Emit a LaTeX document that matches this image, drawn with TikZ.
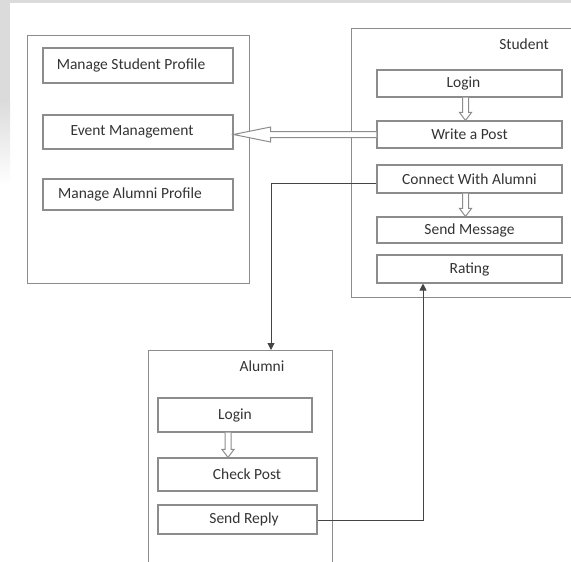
\documentclass[tikz,border=0pt]{standalone}
\usepackage{fontspec}
\setmainfont{Carlito}
\usetikzlibrary{calc,arrows.meta}
\definecolor{boxline}{HTML}{8C8C8C}
\definecolor{txt}{HTML}{333333}
\definecolor{connline}{HTML}{444444}
\tikzset{
  container/.style={draw=boxline, line width=1.3pt, anchor=north west, inner sep=0pt},
  item/.style={draw=boxline, line width=1.1pt, inner sep=0pt, text=txt,
    font=\fontsize{15.5}{18}\selectfont},
  caption/.style={text=txt, inner sep=0pt, font=\fontsize{15.5}{18}\selectfont},
  hollow/.style={draw=boxline, line width=1pt, fill=white, line join=miter},
  conn/.style={draw=connline, line width=1pt, -{Triangle[width=7pt,length=7pt]}}
}
\begin{document}
\begin{tikzpicture}[x=1pt,y=-1pt]
\useasboundingbox (0,0) rectangle (571,562);
\clip (0,0) rectangle (571,562);
% page margins of the scan
\fill[black!14] (0,0) rectangle (571,2.5);
\fill[black!14] (0,0) rectangle (10,100);
\shade[top color=black!14, bottom color=white] (0,100) rectangle (10,185);
% containers
\node[container, minimum width=222pt, minimum height=248pt] (admin) at (27,35) {};
\node[container, minimum width=230pt, minimum height=269pt] (student) at (351,28) {};
\node[container, minimum width=184pt, minimum height=230pt] (alumni) at (148,350) {};
\node[caption] (stlabel) at (524,44) {Student};
\node[caption] (allabel) at (262,366) {Alumni};
% admin items
\node[item, minimum width=190pt, minimum height=35pt] (ms) at (138,65.5) {Manage Student Profile\hspace*{14pt}};
\node[item, minimum width=190pt, minimum height=34pt] (em) at (138,132) {Event Management\hspace*{12pt}};
\node[item, minimum width=190pt, minimum height=31pt] (ma) at (138,194.5) {Manage Alumni Profile\hspace*{16pt}};
% student items
\node[item, minimum width=185pt, minimum height=27pt] (slogin) at (469.5,83.5) {Login\hspace*{12pt}};
\node[item, minimum width=185pt, minimum height=27pt] (spost) at (469.5,134.5) {Write a Post};
\node[item, minimum width=185pt, minimum height=28pt] (sconn) at (469.5,179) {Connect With Alumni};
\node[item, minimum width=185pt, minimum height=26pt] (smsg) at (469.5,230) {Send Message};
\node[item, minimum width=185pt, minimum height=28pt] (srate) at (469.5,269) {Rating};
% alumni items
\node[item, minimum width=154pt, minimum height=34pt] (alogin) at (235,415) {Login};
\node[item, minimum width=159pt, minimum height=33pt] (acheck) at (237.5,474.5) {\hspace*{19pt}Check Post};
\node[item, minimum width=159pt, minimum height=29pt] (areply) at (237.5,519.5) {\hspace*{13pt}Send Reply};
% hollow arrow: Write a Post -> Event Management
\coordinate (t0) at (em.east |- spost.west);
\draw[hollow] ($(spost.west)+(0,-3)$) -- ($(t0)+(37,-3)$) -- ($(t0)+(37,-7.5)$) -- (t0)
  -- ($(t0)+(37,7.5)$) -- ($(t0)+(37,3)$) -- ($(spost.west)+(0,3)$);
% hollow arrow: Login -> Write a Post
\coordinate (t1) at ($(spost.north)+(-4,0)$);
\draw[hollow] ($(slogin.south)+(-7,0)$) -- ($(t1)+(-3,-8)$) -- ($(t1)+(-6,-8)$) -- (t1)
  -- ($(t1)+(6,-8)$) -- ($(t1)+(3,-8)$) -- ($(slogin.south)+(-1,0)$);
% hollow arrow: Connect With Alumni -> Send Message
\coordinate (t2) at ($(smsg.north)+(-4,0)$);
\draw[hollow] ($(sconn.south)+(-7,0)$) -- ($(t2)+(-3,-8)$) -- ($(t2)+(-6,-8)$) -- (t2)
  -- ($(t2)+(6,-8)$) -- ($(t2)+(3,-8)$) -- ($(sconn.south)+(-1,0)$);
% hollow arrow: Alumni Login -> Check Post
\path ($(alogin.south)+(-7,0)$) coordinate (s3);
\coordinate (t3) at (s3 |- acheck.north);
\draw[hollow] ($(s3)+(-3,0)$) -- ($(t3)+(-3,-8)$) -- ($(t3)+(-6,-8)$) -- (t3)
  -- ($(t3)+(6,-8)$) -- ($(t3)+(3,-8)$) -- ($(s3)+(3,0)$);
% connectors
\coordinate (c1) at (271,183);
\draw[conn] (sconn.west |- c1) -- (c1) -- (c1 |- alumni.north);
\coordinate (c2) at (423,520);
\draw[conn] (areply.east |- c2) -- (c2) -- (c2 |- srate.south);
\end{tikzpicture}
\end{document}
